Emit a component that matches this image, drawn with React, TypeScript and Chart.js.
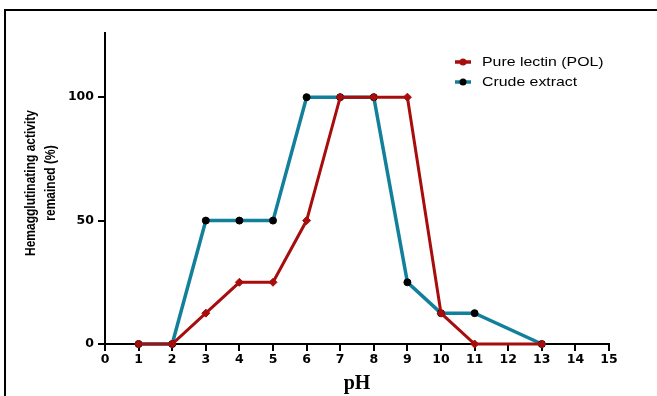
import React, { useEffect, useRef } from "react";
import { Chart, registerables } from "chart.js";

Chart.register(...registerables);

const phTicks = [0, 1, 2, 3, 4, 5, 6, 7, 8, 9, 10, 11, 12, 13, 14, 15];
const yTicks = [0, 50, 100];
const pureX = [1, 2, 3, 4, 5, 6, 7, 8, 9, 10, 11, 13];
const pureY = [0, 0, 12.5, 25, 25, 50, 100, 100, 100, 12.5, 0, 0];
const crudeX = [1, 2, 3, 4, 5, 6, 7, 8, 9, 10, 11, 13];
const crudeY = [0, 0, 50, 50, 50, 100, 100, 100, 25, 12.5, 12.5, 0];
const seriesNames = ["Pure lectin (POL)", "Crude extract"];
const yTitleLines = ["Hemagglutinating activity", "remained (%)"];
const xTitle = "pH";

const RED = "#a80d0d";
const TEAL = "#12809a";
const TICK_FONT = { family: "'DejaVu Sans', Arial, sans-serif", size: 12.5, weight: "bold" as const };

export default function App() {
  const ref = useRef<HTMLCanvasElement>(null);

  useEffect(() => {
    document.body.style.margin = "0";
    const canvas = ref.current;
    if (!canvas) return;

    const decor = {
      id: "decor",
      afterDraw(chart: any) {
        const ctx = chart.ctx;
        ctx.save();
        // frame
        ctx.strokeStyle = "#000";
        ctx.lineWidth = 2;
        ctx.strokeRect(5, 10, 800, 600);
        // y title
        ctx.fillStyle = "#000";
        ctx.font = "bold 12px 'Liberation Sans', Arial, sans-serif";
        ctx.textAlign = "center";
        ctx.textBaseline = "middle";
        ctx.save();
        ctx.translate(31, 183);
        ctx.rotate(-Math.PI / 2);
        ctx.scale(1, 1.25);
        ctx.fillText(yTitleLines[0], 0, 0);
        ctx.fillText(yTitleLines[1], 0, 15.5);
        ctx.restore();
        // legend
        const colors = [RED, TEAL];
        const mcol = [RED, "#000"];
        ctx.font = "13px 'Liberation Sans', Arial, sans-serif";
        ctx.textAlign = "left";
        seriesNames.forEach((name, i) => {
          const y = 62 + i * 20;
          ctx.strokeStyle = colors[i];
          ctx.lineWidth = 3.5;
          ctx.beginPath();
          ctx.moveTo(455, y);
          ctx.lineTo(471, y);
          ctx.stroke();
          ctx.fillStyle = mcol[i];
          ctx.beginPath();
          ctx.arc(463, y, 3.5, 0, Math.PI * 2);
          ctx.fill();
          ctx.fillStyle = "#000";
          ctx.save();
          ctx.translate(482, y);
          ctx.scale(1.22, 1);
          ctx.fillText(name, 0, 0);
          ctx.restore();
        });
        ctx.restore();
      },
    };

    const chart = new Chart(canvas, {
      type: "line",
      data: {
        datasets: [
          {
            label: seriesNames[0],
            data: pureX.map((x, i) => ({ x, y: pureY[i] })),
            borderColor: RED,
            backgroundColor: RED,
            borderWidth: 3,
            pointRadius: 4,
            pointStyle: "rectRot",
            pointBackgroundColor: RED,
            pointBorderColor: RED,
            pointBorderWidth: 1,
            tension: 0,
            clip: false,
          },
          {
            label: seriesNames[1],
            data: crudeX.map((x, i) => ({ x, y: crudeY[i] })),
            borderColor: TEAL,
            backgroundColor: "#000",
            borderWidth: 3.5,
            pointRadius: 3.5,
            pointBackgroundColor: "#000",
            pointBorderColor: "#000",
            pointBorderWidth: 1,
            tension: 0,
            clip: false,
          },
        ],
      },
      options: {
        responsive: false,
        animation: false,
        layout: { padding: { left: 0, top: 33, right: 48, bottom: 0 } },
        plugins: { legend: { display: false }, tooltip: { enabled: false } },
        scales: {
          x: {
            type: "linear",
            min: phTicks[0],
            max: phTicks[phTicks.length - 1],
            afterBuildTicks: (s: any) => {
              s.ticks = phTicks.map((v) => ({ value: v }));
            },
            afterFit: (s: any) => {
              s.height = 52;
            },
            ticks: {
              color: "#000",
              font: TICK_FONT,
              padding: 1,
              maxRotation: 0,
              autoSkip: false,
            },
            grid: {
              drawOnChartArea: false,
              drawTicks: true,
              tickLength: 7,
              color: "#000",
              lineWidth: 2,
            },
            border: { display: true, color: "#000", width: 2 },
            title: {
              display: true,
              text: xTitle,
              color: "#000",
              font: { family: "'Liberation Serif', 'Times New Roman', serif", size: 20, weight: "bold" },
              padding: { top: 0, bottom: 0 },
            },
          },
          y: {
            type: "linear",
            min: 0,
            max: 126,
            afterBuildTicks: (s: any) => {
              s.ticks = yTicks.map((v) => ({ value: v }));
            },
            afterFit: (s: any) => {
              s.width = 105;
            },
            ticks: {
              color: "#000",
              font: TICK_FONT,
              padding: 4,
            },
            grid: {
              drawOnChartArea: false,
              drawTicks: true,
              tickLength: 7,
              color: "#000",
              lineWidth: 2,
            },
            border: { display: true, color: "#000", width: 2 },
          },
        },
      },
      plugins: [decor],
    });

    return () => chart.destroy();
  }, []);

  return <canvas ref={ref} width={657} height={396} style={{ display: "block" }} />;
}
